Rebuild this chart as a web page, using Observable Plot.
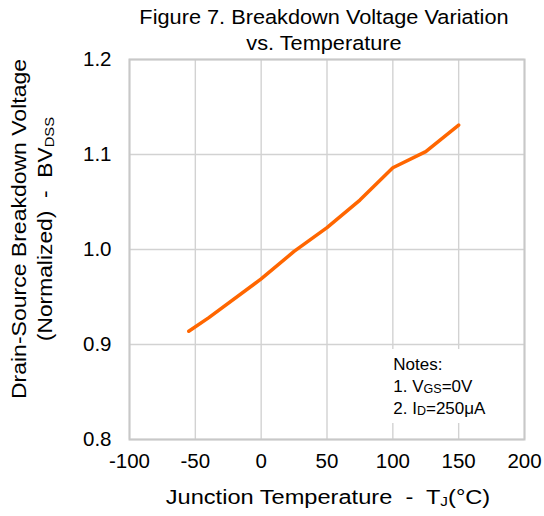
<!DOCTYPE html>
<html><head><meta charset="utf-8">
<script src="https://cdn.jsdelivr.net/npm/d3@7"></script>
<script src="https://cdn.jsdelivr.net/npm/@observablehq/plot@0.6"></script>
<style>
body{margin:0;background:#fff;font-family:"Liberation Sans",Arial,sans-serif;}
</style></head>
<body>
<div id="chart"></div>
<script>
const temperature = [-55, -40, 0, 25, 50, 75, 100, 125, 150];
const bvdss = [0.914, 0.928, 0.969, 0.998, 1.023, 1.052, 1.086, 1.103, 1.131];
const xTicks = [-100, -50, 0, 50, 100, 150, 200];
const yTicks = [0.8, 0.9, 1.0, 1.1, 1.2];
const titleLines = ["Figure 7. Breakdown Voltage Variation", "vs. Temperature"];
const notesTitle = "Notes:";

const data = temperature.map((t, i) => ({t, v: bvdss[i]}));
const ff = '"Liberation Sans", Arial, sans-serif';

const plot = Plot.plot({
  width: 544,
  height: 516,
  marginTop: 59,
  marginBottom: 77,
  marginLeft: 129,
  marginRight: 20,
  style: {fontFamily: ff, fontSize: "20px", color: "#000", background: "#fff", overflow: "visible"},
  x: {domain: [-100, 200], label: null},
  y: {domain: [0.8, 1.2], label: null},
  marks: [
    Plot.gridX(xTicks, {stroke: "#d2d2d2", strokeOpacity: 1, strokeWidth: 1.4}),
    Plot.gridY(yTicks, {stroke: "#d2d2d2", strokeOpacity: 1, strokeWidth: 1.4}),
    Plot.frame({stroke: "#c8c8c8", strokeWidth: 2}),
    Plot.axisX(xTicks, {tickSize: 0, tickPadding: 14, fontSize: 20.5, label: null, tickFormat: d => String(d)}),
    Plot.axisY(yTicks, {tickSize: 0, tickPadding: 18, fontSize: 20.5, tickFormat: d3.format(".1f"), label: null}),
    Plot.line(data, {x: "t", y: "v", stroke: "#ff6600", strokeWidth: 3.5, strokeLinejoin: "round", strokeLinecap: "round"})
  ]
});
document.getElementById("chart").appendChild(plot);

const svg = d3.select(plot);
const sx = plot.scale("x"), sy = plot.scale("y");

function stretch(sel, k) {
  const w = sel.node().getComputedTextLength();
  sel.attr("textLength", w * k).attr("lengthAdjust", "spacingAndGlyphs");
}

// Title
titleLines.forEach((s, i) => {
  const t = svg.append("text").attr("font-family", ff).attr("font-size", 20.5).attr("fill", "#000")
    .attr("text-anchor", "middle").attr("x", 324).attr("y", 24 + i * 26).text(s);
  stretch(t, 1.06);
});

// Notes box
const nx = sx.apply(100) - 3, ny = sy.apply(0.9) + 5;
svg.append("rect").attr("x", nx).attr("y", ny).attr("width", 110).attr("height", 74).attr("fill", "#fff");
const notes = svg.append("text").attr("font-family", ff).attr("font-size", 17).attr("fill", "#000")
  .attr("text-anchor", "start");
notes.append("tspan").attr("x", nx + 4).attr("y", ny + 21).text(notesTitle);
const l1 = notes.append("tspan").attr("x", nx + 4).attr("y", ny + 43);
l1.append("tspan").text("1. V");
l1.append("tspan").attr("font-size", 12.5).attr("dy", 1).text("GS");
l1.append("tspan").attr("dy", -1).text("=0V");
const l2 = notes.append("tspan").attr("x", nx + 4).attr("y", ny + 65);
l2.append("tspan").text("2. I");
l2.append("tspan").attr("font-size", 12.5).attr("dy", 1).text("D");
l2.append("tspan").attr("dy", -1).text("=250μA");

// X axis label
const xl = svg.append("text").attr("font-family", ff).attr("font-size", 20).attr("fill", "#000")
  .attr("text-anchor", "middle").attr("x", 328).attr("y", 504).attr("xml:space", "preserve");
xl.append("tspan").text("Junction Temperature  -  T");
xl.append("tspan").attr("font-size", 13).attr("dy", 2).text("J");
xl.append("tspan").attr("dy", -2).text("(°C)");
stretch(xl, 1.18);

// Y axis label
const yl = svg.append("g").attr("transform", `translate(0,229) rotate(-90)`);
const y1 = yl.append("text").attr("font-family", ff).attr("font-size", 20).attr("fill", "#000")
  .attr("text-anchor", "middle").attr("x", 0).attr("y", 26).text("Drain-Source Breakdown Voltage");
stretch(y1, 1.15);
const y2 = yl.append("text").attr("font-family", ff).attr("font-size", 20).attr("fill", "#000")
  .attr("text-anchor", "middle").attr("x", 0).attr("y", 52).attr("xml:space", "preserve");
y2.append("tspan").text("(Normalized)  -  BV");
y2.append("tspan").attr("font-size", 13).attr("dy", 2).text("DSS");
stretch(y2, 1.14);
</script>
</body></html>
